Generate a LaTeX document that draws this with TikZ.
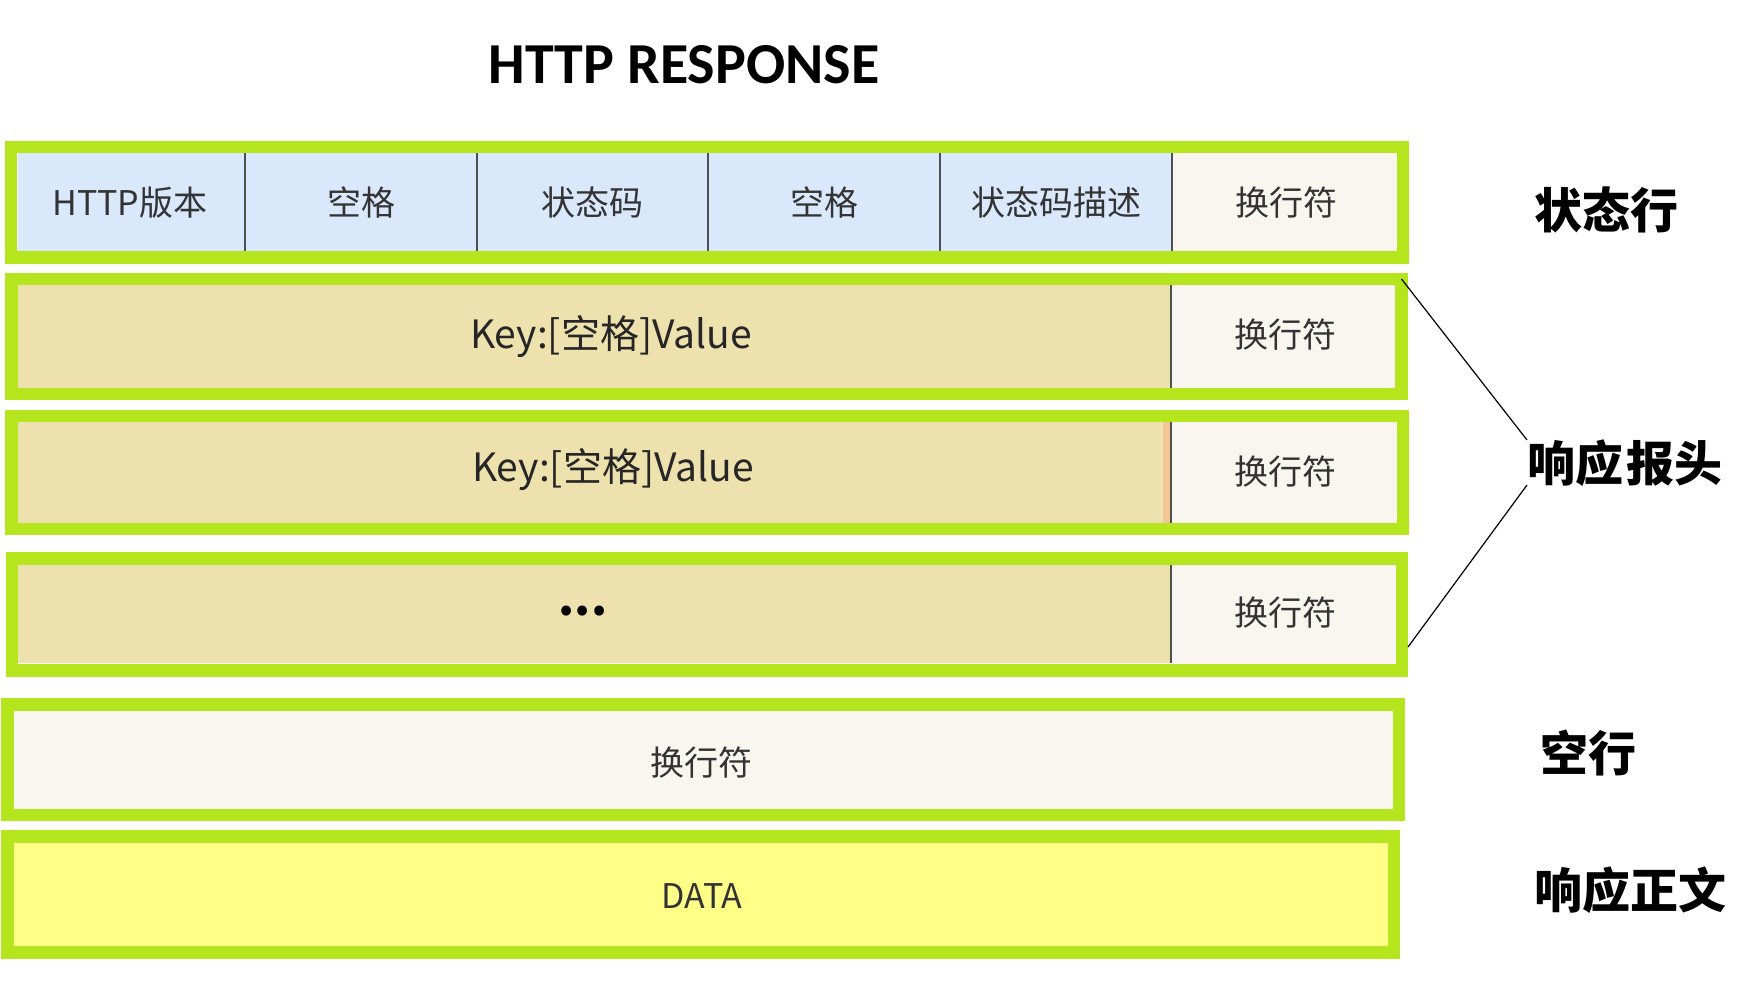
\documentclass[tikz,border=0pt]{standalone}
\usepackage{fontspec}
\setmainfont{Noto Sans CJK SC}
\newfontfamily\titlefont{Carlito}
\usetikzlibrary{fit}
\definecolor{framegreen}{HTML}{B5E61D}
\definecolor{cellblue}{HTML}{DAE8FC}
\definecolor{celltan}{HTML}{EDE1AD}
\definecolor{cellwhite}{HTML}{F8F6EF}
\definecolor{celldata}{HTML}{FFFF88}
\definecolor{textgray}{HTML}{333333}
\definecolor{divgray}{HTML}{505050}
\definecolor{edgeorange}{HTML}{F3C696}
\begin{document}
\begin{tikzpicture}[x=1pt,y=-1pt,
  framebox/.style={draw=framegreen, line width=12.5pt, fill=none, inner sep=0pt, outer sep=0pt},
  cellbox/.style={draw=none, fill=#1, inner sep=0pt, outer sep=0pt, text=textgray,
    font=\fontsize{34}{40}\selectfont},
  cellword/.style={inner sep=0pt, text=textgray, font=\fontsize{34}{40}\selectfont},
  keyword/.style={inner sep=0pt, text=black!85, font=\fontsize{39}{46}\selectfont},
  divider/.style={draw=divgray, line width=1.6pt},
  sidelabel/.style={inner sep=0pt, text=black, font=\bfseries\fontsize{48}{56}\selectfont},
  brace/.style={draw=black, line width=1.2pt}
]
\fill[white] (0,0) rectangle (1763,999);
\useasboundingbox (0,0) rectangle (1763,999);

% title
\node[inner sep=0pt, font=\titlefont\bfseries\fontsize{58}{66}\selectfont] (title) at (684,65) {HTTP RESPONSE};

% ---------- status line ----------
\node[cellbox=cellblue, fit={(18,153) (245,252)}] (s1) {};
\node[cellbox=cellblue, fit={(245,153) (477,252)}] (s2) {};
\node[cellbox=cellblue, fit={(477,153) (708,252)}] (s3) {};
\node[cellbox=cellblue, fit={(708,153) (940,252)}] (s4) {};
\node[cellbox=cellblue, fit={(940,153) (1172,252)}] (s5) {};
\node[cellbox=cellwhite, fit={(1172,153) (1397,252)}] (s6) {};
\node[cellword] (s1t) at (130,203) {HTTP版本};
\node[cellword] (s2t) at (s2) {空格};
\node[cellword] (s3t) at (s3) {状态码};
\node[cellword] (s4t) at (s4) {空格};
\node[cellword] (s5t) at (s5) {状态码描述};
\node[cellword] (s6t) at (1286,203) {换行符};
\draw[divider] (s1.north east) -- (s1.south east);
\draw[divider] (s2.north east) -- (s2.south east);
\draw[divider] (s3.north east) -- (s3.south east);
\draw[divider] (s4.north east) -- (s4.south east);
\draw[divider] (s5.north east) -- (s5.south east);
\node[framebox, fit={(11,147) (1403,257.5)}] (st) {};

% ---------- header line 1 ----------
\node[cellbox=celltan, fit={(18,285) (1171,388)}] (h1a) {};
\node[cellbox=cellwhite, fit={(1171,285) (1396,388)}] (h1b) {};
\node[keyword] (h1at) at (611,337) {Key:[空格]Value};
\node[cellword] (h1bt) at (1285,335) {换行符};
\draw[divider] (h1a.north east) -- (h1a.south east);
\node[framebox, fit={(11.5,279) (1401.5,394)}] (h1) {};

% ---------- header line 2 ----------
\node[cellbox=celltan, fit={(18,422) (1171,523)}] (h2a) {};
\node[cellbox=cellwhite, fit={(1171,422) (1397,523)}] (h2b) {};
\fill[edgeorange] (1163,422) rectangle (1169.5,523);
\node[keyword] (h2at) at (613,470) {Key:[空格]Value};
\node[cellword] (h2bt) at (1285,472) {换行符};
\draw[divider] (h2a.north east) -- (h2a.south east);
\node[framebox, fit={(11.5,416) (1403,529)}] (h2) {};

% ---------- header line 3 ----------
\node[cellbox=celltan, fit={(18,565) (1171,663)}] (h3a) {};
\node[cellbox=cellwhite, fit={(1171,565) (1395,663)}] (h3b) {};
\node[inner sep=0pt, font=\bfseries\fontsize{46}{50}\selectfont] (h3at) at (583,611) {...};
\node[cellword] (h3bt) at (1285,613) {换行符};
\draw[divider] (h3a.north east) -- (h3a.south east);
\node[framebox, fit={(12,558.5) (1402,670.5)}] (h3) {};

% ---------- empty line ----------
\node[cellbox=cellwhite, fit={(13,711) (1393,809)}] (bl) {};
\node[cellword] (blt) at (701,763) {换行符};
\node[framebox, fit={(7.5,704.5) (1399,815)}] (blf) {};

% ---------- body ----------
\node[cellbox=celldata, fit={(13,843) (1388,947)}] (da) {};
\node[cellword] (dat) at (702,896) {DATA};
\node[framebox, fit={(7.5,836.5) (1394,952.5)}] (daf) {};

% ---------- side labels ----------
\node[sidelabel] (lstatus) at (1606,210) {状态行};
\node[sidelabel] (lheader) at (1625,463) {响应\hspace{3pt}报头};
\node[sidelabel] (lblank) at (1588,753) {空行};
\node[sidelabel] (lbody) at (1630,890) {响应正文};

\coordinate (hA) at (1527,440);
\coordinate (hB) at (1527,485);
\coordinate (hC) at (1408,647);
\draw[brace] (h1.north east) -- (hA);
\draw[brace] (hB) -- (hC);
\end{tikzpicture}
\end{document}
